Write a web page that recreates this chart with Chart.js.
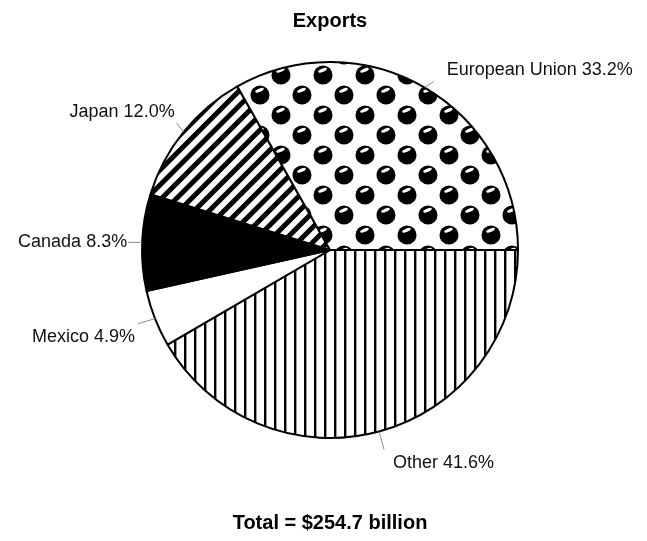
<!DOCTYPE html>
<html>
<head>
<meta charset="utf-8">
<script src="https://cdn.jsdelivr.net/npm/chart.js@4.4.0/dist/chart.umd.min.js"></script>
<style>
html, body { margin: 0; padding: 0; background: #fff; }
canvas { display: block; }
</style>
</head>
<body>
<canvas id="exports" width="647" height="541"></canvas>
<script>
// Export destinations, share of total (%)
var regions = ["Other", "Mexico", "Canada", "Japan", "European Union"];
var shares = [41.6, 4.9, 8.3, 12.0, 33.2];
var totalBillions = 254.7;

var labelFont = "18px 'Liberation Sans', Arial, sans-serif";

// small helper: paint a tile on an offscreen canvas and turn it into a fill pattern
function makePattern(w, h, paint) {
    var c = document.createElement("canvas");
    c.width = w;
    c.height = h;
    var g = c.getContext("2d");
    g.fillStyle = "#fff";
    g.fillRect(0, 0, w, h);
    g.fillStyle = "#000";
    g.strokeStyle = "#000";
    paint(g, w, h);
    return g.createPattern(c, "repeat");
}

// thin vertical lines
var vLines = makePattern(10, 10, function (g, w, h) {
    g.fillRect(4, 0, 2.4, h);
});

// thick "/" stripes
var diagStripes = makePattern(15, 15, function (g, w, h) {
    g.lineWidth = 5;
    g.beginPath();
    g.moveTo(-3, h + 3); g.lineTo(w + 3, -3);
    g.moveTo(-3, 3); g.lineTo(3, -3);
    g.moveTo(w - 3, h + 3); g.lineTo(w + 3, h - 3);
    g.stroke();
});

// shiny black balls on a staggered grid (edge copies keep the tile seamless)
var balls = makePattern(42, 40, function (g) {
    [[8, 15], [50, 15], [29, 35], [29, -5]].forEach(function (p) {
        g.fillStyle = "#000";
        g.beginPath();
        g.arc(p[0], p[1], 9.5, 0, Math.PI * 2);
        g.fill();
        g.fillStyle = "#fff";
        g.beginPath();
        g.ellipse(p[0] - 0.5, p[1] - 4.8, 4.6, 1.7, -0.4, 0, Math.PI * 2);
        g.fill();
    });
});

var fills = [vLines, "#ffffff", "#000000", diagStripes, balls];

// where each callout's leader ends and its text sits, relative to the slice edge
var callouts = [
    { line: [5, 18], text: [14, 32], align: "left" },
    { line: [-17, 5], text: [-20, 18], align: "right" },
    { line: [-14, 0], text: [-15, 0], align: "right" },
    { line: [-7, -9], text: [-9, -20], align: "right" },
    { line: [9, -6], text: [22, -18], align: "left" }
];

var calloutPlugin = {
    id: "callouts",
    afterDatasetsDraw: function (chart) {
        var ctx = chart.ctx;
        var arcs = chart.getDatasetMeta(0).data;
        ctx.save();
        ctx.font = labelFont;
        ctx.textBaseline = "middle";
        arcs.forEach(function (arc, i) {
            var p = arc.getProps(["x", "y", "startAngle", "endAngle", "outerRadius"], true);
            var mid = (p.startAngle + p.endAngle) / 2;
            var ex = p.x + Math.cos(mid) * p.outerRadius;
            var ey = p.y + Math.sin(mid) * p.outerRadius;
            var c = callouts[i];
            ctx.strokeStyle = "#8a8a8a";
            ctx.lineWidth = 1;
            ctx.beginPath();
            ctx.moveTo(ex, ey);
            ctx.lineTo(ex + c.line[0], ey + c.line[1]);
            ctx.stroke();
            ctx.fillStyle = "#111";
            ctx.textAlign = c.align;
            ctx.fillText(regions[i] + " " + shares[i].toFixed(1) + "%", ex + c.text[0], ey + c.text[1]);
        });
        ctx.restore();
    }
};

var ctxExports = document.getElementById("exports").getContext("2d");
new Chart(ctxExports, {
    type: "pie",
    data: {
        labels: regions,
        datasets: [{
            data: shares,
            backgroundColor: fills,
            borderColor: "#000",
            borderWidth: 2
        }]
    },
    options: {
        responsive: false,
        animation: false,
        rotation: 90,
        layout: {
            padding: { left: 141, right: 128, top: 0, bottom: 0 }
        },
        plugins: {
            legend: { display: false },
            tooltip: { enabled: false },
            title: {
                display: true,
                text: "Exports",
                color: "#000",
                font: { family: "'Liberation Sans', Arial, sans-serif", size: 20, weight: "bold" },
                padding: { top: 9, bottom: 28 }
            },
            subtitle: {
                display: true,
                position: "bottom",
                text: "Total = $" + totalBillions.toFixed(1) + " billion",
                color: "#000",
                font: { family: "'Liberation Sans', Arial, sans-serif", size: 20, weight: "bold" },
                padding: { top: 72, bottom: 6 }
            }
        }
    },
    plugins: [calloutPlugin]
});
</script>
</body>
</html>
